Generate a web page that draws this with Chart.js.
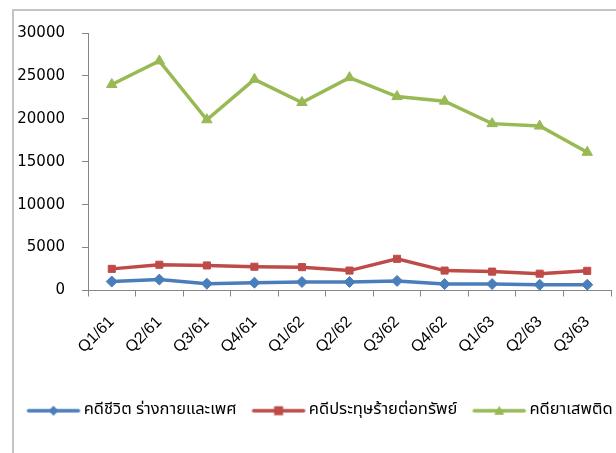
<!DOCTYPE html>
<html>
<head>
<meta charset="utf-8">
<script src="https://cdn.jsdelivr.net/npm/chart.js@4.4.1/dist/chart.umd.min.js"></script>
<style>
  html, body { margin: 0; padding: 0; background: #fff; overflow: hidden; }
  #wrap { position: relative; width: 616px; height: 453px; overflow: hidden; }
  #frame { position: absolute; left: 12px; top: 9px; width: 700px; height: 500px; border: 2px solid #c4c4c4; box-sizing: border-box; }
  #box { position: absolute; left: 0; top: 0; width: 636px; height: 453px; }
</style>
</head>
<body>
<div id="wrap">
  <div id="frame"></div>
  <div id="box"><canvas id="chart1"></canvas></div>
</div>
<script>
// quarters (Thai Buddhist year)
const quarters = ['Q1/61', 'Q2/61', 'Q3/61', 'Q4/61', 'Q1/62', 'Q2/62', 'Q3/62', 'Q4/62', 'Q1/63', 'Q2/63', 'Q3/63'];

const lifeCases = [1040, 1270, 790, 910, 990, 990, 1120, 750, 750, 670, 670];
const propertyCases = [2520, 3000, 2920, 2770, 2720, 2320, 3690, 2320, 2200, 1960, 2290];
const drugCases = [24000, 26740, 19890, 24600, 21900, 24800, 22590, 22060, 19440, 19160, 16100];

const seriesNames = ['คดีชีวิต ร่างกายและเพศ', 'คดีประทุษร้ายต่อทรัพย์', 'คดียาเสพติด'];
const yTicks = [0, 5000, 10000, 15000, 20000, 25000, 30000];

const blue = '#4a7ebb';
const red = '#be4b48';
const green = '#98b954';

// small picture for the legend: line with marker, shifted so it sits close to the text
function legendIcon(color, style) {
    const c = document.createElement('canvas');
    c.width = 64; c.height = 14;
    const g = c.getContext('2d');
    const mx = 36;
    g.strokeStyle = color; g.fillStyle = color; g.lineWidth = 3.5; g.lineCap = 'round';
    g.beginPath(); g.moveTo(11, 7); g.lineTo(61, 7); g.stroke();
    g.beginPath();
    if (style === 'rectRot') {
        g.moveTo(mx, 2); g.lineTo(mx + 5, 7); g.lineTo(mx, 12); g.lineTo(mx - 5, 7);
    } else if (style === 'rect') {
        g.rect(mx - 4.5, 2.5, 9, 9);
    } else {
        g.moveTo(mx, 2); g.lineTo(mx + 5, 11); g.lineTo(mx - 5, 11);
    }
    g.closePath(); g.fill();
    return c;
}

function makeSet(label, data, color, style, radius) {
    return {
        label: label,
        data: data,
        borderColor: color,
        backgroundColor: color,
        borderWidth: 3.5,
        pointStyle: style,
        pointRadius: radius,
        pointHoverRadius: radius,
        pointBorderWidth: 1,
        tension: 0
    };
}

const ctx1 = document.getElementById('chart1').getContext('2d');

const myChart1 = new Chart(ctx1, {
    type: 'line',
    data: {
        labels: quarters,
        datasets: [
            makeSet(seriesNames[0], lifeCases, blue, 'rectRot', 5.5),
            makeSet(seriesNames[1], propertyCases, red, 'rect', 5),
            makeSet(seriesNames[2], drugCases, green, 'triangle', 6)
        ]
    },
    options: {
        responsive: true,
        maintainAspectRatio: false,
        animation: false,
        layout: { padding: { left: 0, right: 0, top: 33, bottom: 24 } },
        plugins: {
            tooltip: { enabled: false },
            legend: {
                position: 'bottom',
                labels: {
                    usePointStyle: true,
                    pointStyleWidth: 52,
                    padding: 12,
                    color: '#000',
                    font: { family: "'Noto Sans Thai', 'Noto Sans', sans-serif", size: 16.5 },
                    generateLabels: (chart) => {
                        const styles = ['rectRot', 'rect', 'triangle'];
                        return chart.data.datasets.map((ds, i) => ({
                            text: ds.label,
                            pointStyle: legendIcon(ds.borderColor, styles[i]),
                            fillStyle: ds.borderColor,
                            strokeStyle: ds.borderColor,
                            lineWidth: 0,
                            hidden: false,
                            datasetIndex: i,
                            fontColor: '#000'
                        }));
                    }
                }
            }
        },
        scales: {
            x: {
                offset: true,
                grid: { drawOnChartArea: false, offset: true, tickLength: 6, color: '#868686' },
                border: { color: '#868686', width: 1 },
                ticks: {
                    color: '#000',
                    minRotation: 45,
                    maxRotation: 45,
                    padding: 16,
                    font: { family: "'Liberation Sans', sans-serif", size: 16 }
                },
                afterFit: (scale) => { scale.height = 100; }
            },
            y: {
                min: 0,
                max: 30000,
                afterBuildTicks: (scale) => { scale.ticks = yTicks.map(v => ({ value: v })); },
                grid: { drawOnChartArea: false, tickLength: 6, color: '#868686' },
                border: { color: '#868686', width: 1 },
                ticks: {
                    color: '#000',
                    padding: 17,
                    font: { family: "'DejaVu Sans', sans-serif", size: 15 },
                    callback: (v) => String(v)
                },
                afterFit: (scale) => { scale.width = 88; }
            },
            // empty axis on the right, only keeps room so the legend centres like the original
            yRight: {
                position: 'right',
                grid: { display: false },
                border: { display: false },
                ticks: { display: false },
                afterFit: (scale) => { scale.width = 25; }
            }
        }
    }
});
</script>
</body>
</html>
